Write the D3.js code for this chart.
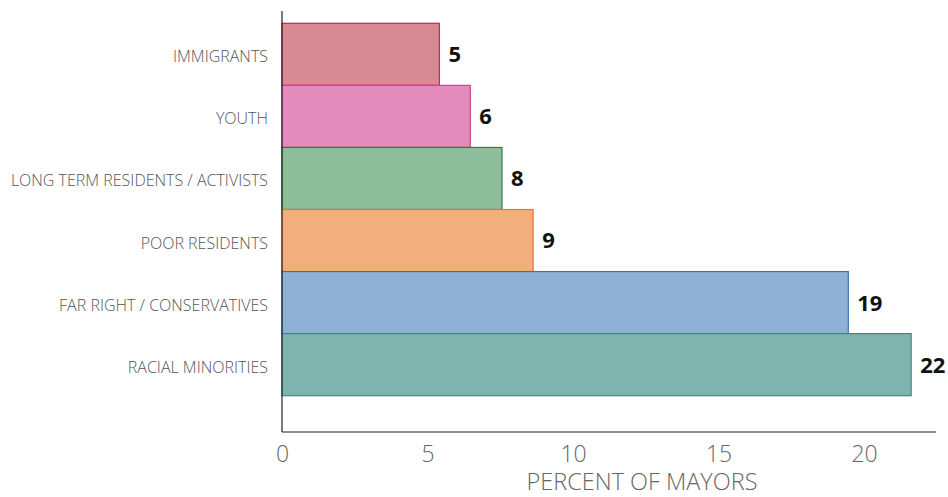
<!DOCTYPE html>
<html>
<head>
<meta charset="utf-8">
<script src="https://cdn.jsdelivr.net/npm/d3@7"></script>
<style>
  body { margin: 0; background: #fff; }
  text { font-family: "Open Sans", "Noto Sans", sans-serif; }
</style>
</head>
<body>
<div id="chart"></div>
<script>
const categories = ['IMMIGRANTS', 'YOUTH', 'LONG TERM RESIDENTS / ACTIVISTS', 'POOR RESIDENTS', 'FAR RIGHT / CONSERVATIVES', 'RACIAL MINORITIES'];
const values = [5.41, 6.47, 7.56, 8.63, 19.46, 21.62];
const valueLabels = ['5', '6', '8', '9', '19', '22'];
const fills = ['#d88a94', '#e38bba', '#8dbd9a', '#f2ae7c', '#8fb1d6', '#7fb3ae'];
const strokes = ['#c4284c', '#d63c92', '#2e7d46', '#e8743b', '#3a72b0', '#3a8a80'];
const xTicks = [0, 5, 10, 15, 20];

const width = 948, height = 497;

const svg = d3.select('#chart')
  .append('svg')
  .attr('width', width)
  .attr('height', height);

const x = d3.scaleLinear().domain([0, 20]).range([282, 864]);
const y = d3.scaleBand().domain(categories).range([23.3, 395.7]).padding(0);

// bars
svg.selectAll('rect.bar')
  .data(categories)
  .enter()
  .append('rect')
  .attr('class', 'bar')
  .attr('x', x(0))
  .attr('y', d => y(d))
  .attr('width', (d, i) => x(values[i]) - x(0))
  .attr('height', y.bandwidth())
  .attr('fill', (d, i) => fills[i])
  .attr('stroke', (d, i) => strokes[i])
  .attr('stroke-width', 1.2);

// value labels
svg.selectAll('text.val')
  .data(categories)
  .enter()
  .append('text')
  .attr('class', 'val')
  .attr('x', (d, i) => x(values[i]) + 9)
  .attr('y', d => y(d) + y.bandwidth() / 2)
  .attr('dy', '0.36em')
  .attr('font-size', 22)
  .attr('font-weight', 700)
  .attr('fill', '#111')
  .text((d, i) => valueLabels[i]);

// category labels
const yAxis = svg.append('g')
  .attr('transform', `translate(${x(0)},0)`)
  .call(d3.axisLeft(y).tickSize(0).tickPadding(14));
yAxis.select('.domain').remove();
yAxis.selectAll('text')
  .attr('font-size', 16)
  .attr('font-weight', 300)
  .attr('fill', '#555')
  .attr('dy', '0.5em')
  .style('font-family', '"Open Sans", sans-serif');

// axis lines
svg.append('line')
  .attr('x1', x(0)).attr('x2', x(0))
  .attr('y1', 11).attr('y2', 432)
  .attr('stroke', '#222').attr('stroke-width', 1.2);
svg.append('line')
  .attr('x1', x(0)).attr('x2', 936)
  .attr('y1', 432).attr('y2', 432)
  .attr('stroke', '#222').attr('stroke-width', 1.2);

// x tick labels
const xAxis = svg.append('g')
  .attr('transform', 'translate(0,432)')
  .call(d3.axisBottom(x).tickValues(xTicks).tickSize(0).tickPadding(14));
xAxis.select('.domain').remove();
xAxis.selectAll('text')
  .attr('font-size', 23)
  .attr('font-weight', 300)
  .attr('fill', '#666')
  .style('font-family', '"Open Sans", sans-serif');

svg.append('text')
  .attr('x', 642)
  .attr('y', 490)
  .attr('text-anchor', 'middle')
  .attr('font-size', 23.5)
  .attr('font-weight', 300)
  .attr('fill', '#666')
  .text('PERCENT OF MAYORS');
</script>
</body>
</html>
